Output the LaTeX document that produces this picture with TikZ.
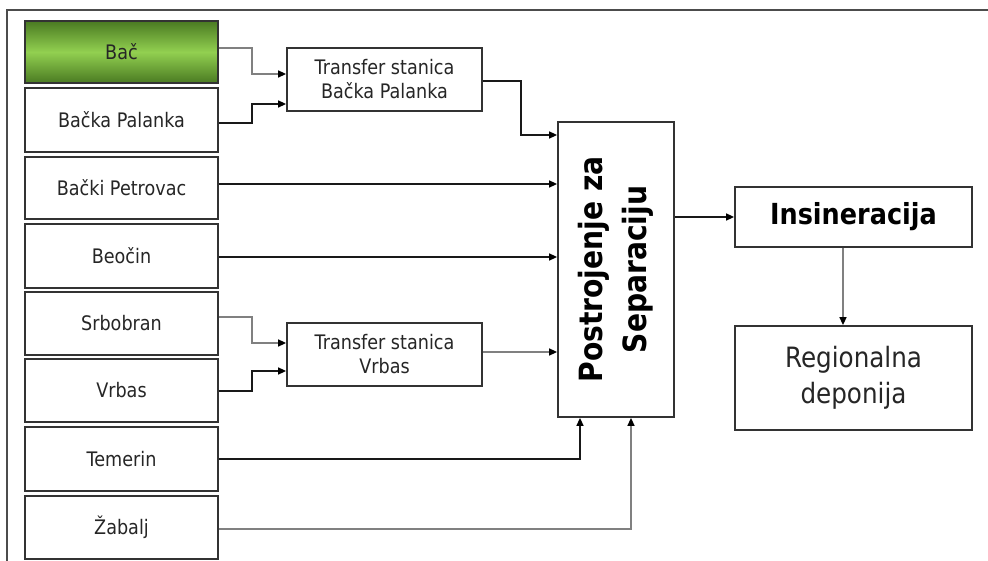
\documentclass[tikz,border=0pt]{standalone}
\usepackage{fontspec}
\setmainfont[FakeStretch=0.88]{DejaVu Sans}
\usetikzlibrary{arrows.meta}
\definecolor{bacdark}{HTML}{4A7A22}
\definecolor{baclight}{HTML}{92D050}
\definecolor{linegray}{HTML}{808080}
\definecolor{boxline}{HTML}{333333}
\tikzset{
  box/.style={draw=boxline, line width=1.8pt, fill=white, inner sep=0pt, align=center,
    text=black!85, font=\fontsize{20}{24}\selectfont},
  leftbox/.style={box, minimum width=193pt},
  conn/.style={line width=1.5pt, draw=black!90, -{Triangle[length=8pt,width=7pt,color=black]}},
  gconn/.style={conn, draw=linegray},
}
\begin{document}
\begin{tikzpicture}[x=1pt,y=-1pt]
\useasboundingbox (0,0) rectangle (988,561);
\draw[line width=2.8pt, draw=black!70] (988,10) -- (7,10) -- (7,561);

% left boxes
\node[leftbox, minimum height=62pt, top color=bacdark, bottom color=bacdark, middle color=baclight] (Bac) at (121.5,52) {Bač};
\node[leftbox, minimum height=64pt] (BP) at (121.5,120) {Bačka Palanka};
\node[leftbox, minimum height=62pt] (BPet) at (121.5,188) {Bački Petrovac};
\node[leftbox, minimum height=64pt] (Beo) at (121.5,256) {Beočin};
\node[leftbox, minimum height=63pt] (Srb) at (121.5,323.5) {Srbobran};
\node[leftbox, minimum height=63pt] (Vrb) at (121.5,390.5) {Vrbas};
\node[leftbox, minimum height=64pt] (Tem) at (121.5,459) {Temerin};
\node[leftbox, minimum height=63pt] (Zab) at (121.5,527.5) {Žabalj};

% transfer stations
\node[box, minimum width=195pt, minimum height=63pt] (TBP) at (384.5,79.5) {Transfer stanica\\Bačka Palanka};
\node[box, minimum width=195pt, minimum height=63pt] (TV) at (384.5,354.5) {Transfer stanica\\Vrbas};

% separation plant
\node[box, minimum width=116pt, minimum height=295pt] (Post) at (616,269.5) {};
\node[rotate=90, align=center, font=\fontsize{32}{44}\selectfont\bfseries, text=black] (PostT) at (Post.center) {Postrojenje za\\Separaciju};

% right boxes
\node[box, minimum width=237pt, minimum height=60pt, font=\fontsize{29}{34}\selectfont\bfseries, text=black] (Ins) at (853.5,217) {Insineracija};
\node[box, minimum width=237pt, minimum height=104pt, font=\fontsize{28}{36}\selectfont] (Reg) at (853.5,378) {Regionalna\\deponija};

% connectors
\draw[gconn] ([yshift=4pt]Bac.east) -| (252,74) -- ([yshift=5.5pt]TBP.west);
\draw[conn] ([yshift=-3pt]BP.east) -| (252,104) -- ([yshift=-24.5pt]TBP.west);
\draw[conn] ([yshift=-1.5pt]TBP.east) -| (521,135) -- ([yshift=134.5pt]Post.west);
\draw[conn] ([yshift=4pt]BPet.east) -- ([yshift=85.5pt]Post.west);
\draw[conn] ([yshift=-1pt]Beo.east) -- ([yshift=12.5pt]Post.west);
\draw[gconn] ([yshift=6.5pt]Srb.east) -| (252,343) -- ([yshift=11.5pt]TV.west);
\draw[conn] ([yshift=-0.5pt]Vrb.east) -| (252,371) -- ([yshift=-16.5pt]TV.west);
\draw[gconn] ([yshift=2.5pt]TV.east) -- ([yshift=-82.5pt]Post.west);
\draw[conn] (Tem.east) -| ([xshift=-36pt]Post.south);
\draw[gconn] ([yshift=-1.5pt]Zab.east) -| ([xshift=15pt]Post.south);
\draw[conn] (Post.east |- Ins.west) -- (Ins.west);
\draw[gconn] ([xshift=-10.5pt]Ins.south) -- ([xshift=-10.5pt]Reg.north);
\end{tikzpicture}
\end{document}
